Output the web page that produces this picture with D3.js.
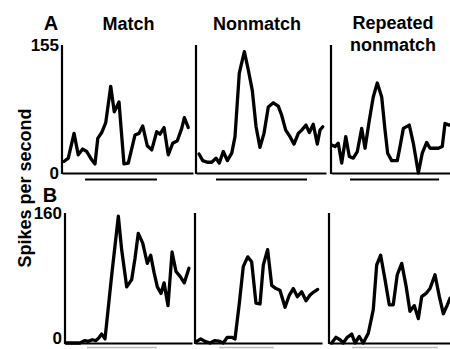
<!DOCTYPE html>
<html lang="en">
<head>
    <meta charset="UTF-8">
    <title>Spike rate histograms</title>
    <script src="https://d3js.org/d3.v7.min.js"></script>
    <style>
        body { margin: 0; background: #fff; }
        svg { display: block; font-family: 'Liberation Sans', Arial, sans-serif; }
        .trace { fill: none; stroke: #000; stroke-width: 3.3px; stroke-linejoin: round; stroke-linecap: round; }
        .axis path { stroke: #000; stroke-width: 2.2px; }
        .axis text { font-size: 17px; font-weight: bold; fill: #000; }
        .title { font-size: 18px; font-weight: bold; text-anchor: middle; }
        .panel-letter { font-size: 20px; font-weight: bold; text-anchor: middle; }
    </style>
</head>
<body>
    <div id="chart"></div>
    <script>
        // time in % of the trial window, rate in spikes/s
        const matchA = [[1.5,14],[4.8,18],[9.2,48],[12.4,22],[15.8,29],[18.9,26],[22.7,16],[25.2,11],[27.3,42],[30.3,49],[33.4,61],[37.2,105],[39.9,74],[43.5,86],[47.3,11],[50.6,12],[55.7,46],[58.8,48],[61.6,57],[65.1,33],[68.5,28],[72.3,50],[74.8,47],[77.9,55],[81.1,22],[84.5,36],[88,39],[91.4,54],[93.4,67],[96.4,55]];
        const nonmatchA = [[2.3,23],[5.2,15],[8.7,13],[12.1,13],[15.4,18],[17.9,12],[21,26],[24.1,15],[27.5,24],[30,44],[33.3,121],[37.2,147],[40.2,125],[43.3,100],[46.2,56],[49.2,31],[52.3,48],[55.6,80],[59.5,85],[63.3,81],[65.9,70],[69,52],[72.3,44],[75.4,35],[78.7,48],[81.3,52],[84.6,58],[87.2,49],[90.2,59],[93.3,35],[95.4,52],[97.5,56]];
        const repeatedA = [[0.6,34],[3.4,32],[6.1,36],[9,12],[12.4,44],[15.4,20],[18.7,18],[22.1,26],[25.8,54],[28.6,30],[32.2,64],[35.5,92],[38.9,109],[42.6,92],[45.4,52],[47.6,24],[51,15],[55.7,15],[58,32],[60.8,54],[65.8,58],[69.2,36],[73.4,0],[76.7,24],[80.4,37],[83.2,30],[86.6,30],[90.2,30],[93.5,32],[95.8,60],[99.4,58]];

        const matchB = [[0.8,0],[6.5,0],[11.8,0],[15.7,3],[18.3,2],[21.5,4],[24.4,3],[27,7],[28.9,11],[31.5,5],[36.8,84],[42,156],[44.6,115],[48.6,69],[52.5,78],[55.1,104],[57.7,135],[61.2,123],[64.8,98],[67.5,108],[70.1,87],[72.7,69],[75.6,61],[78,74],[81.1,46],[84.3,112],[87.4,88],[90.6,82],[93.9,74],[97.6,92]];
        const nonmatchB = [[1.3,2],[4.5,5],[7.9,2],[11.8,0],[15.7,3],[19.7,2],[22.3,0],[25.4,7],[28.9,7],[31.5,5],[34.9,49],[38,94],[41.5,106],[44.6,100],[48,49],[51.2,48],[53.8,96],[57.2,115],[60.4,71],[63.8,67],[66.9,65],[70.9,44],[74.3,59],[77.4,67],[80.6,57],[84,63],[87.4,52],[90.6,59],[93.7,63],[96.6,66]];
        const repeatedB = [[2.2,0],[5.8,7],[9.1,4],[11.8,0],[15.1,7],[18.8,11],[21.5,0],[25,8],[28.3,0],[32.5,12],[36.6,41],[39.4,96],[42.7,108],[46.3,78],[49.8,47],[53.1,47],[56.4,84],[60.1,98],[63.6,71],[66.9,39],[70.5,46],[73.8,30],[76.6,57],[80.2,61],[83.5,67],[87.6,84],[91.2,57],[94.5,36],[97.8,47],[100,55]];

        // stimulus period [start, end] per column
        const stimA = [[17.6,72.5],[15.4,85.4],[16,90.8]];
        const stimB = [[17.3,72.4],[19,62],[19,90]];

        const columnTitles = ["Match", "Nonmatch", "Repeated nonmatch"];
        const rowLetters = ["A", "B"];
        const rowMax = [155, 160];

        const width = 450, height = 349;

        const svg = d3.select("#chart").append("svg")
            .attr("width", width)
            .attr("height", height);

        // panel boxes (layout only)
        const rows = [
            { top: 45, bottom: 173, stimY: 179.5, stimColor: "#000", stimW: 2 },
            { top: 213, bottom: 343, stimY: 347.5, stimColor: "#bbb", stimW: 1.5 }
        ];
        const cols = [
            [[62, 193], [196, 326], [331, 450]],
            [[65, 192], [195, 322], [329, 450]]
        ];
        const series = [[matchA, nonmatchA, repeatedA], [matchB, nonmatchB, repeatedB]];
        const stims = [stimA, stimB];

        rows.forEach((row, r) => {
            const y = d3.scaleLinear().domain([0, rowMax[r]]).range([row.bottom, row.top]);
            cols[r].forEach((c, k) => {
                const x = d3.scaleLinear().domain([0, 100]).range(c);
                const g = svg.append("g");

                g.append("g")
                    .attr("class", "axis")
                    .attr("transform", `translate(${c[0]},0)`)
                    .call(d3.axisLeft(y).tickValues(k === 0 ? [0, rowMax[r]] : [])
                        .tickSize(0).tickSizeOuter(0).tickPadding(3).tickFormat(d3.format("d")))
                    .call(a => a.select(".domain").attr("d", `M0,${row.top}V${row.bottom + 1}`))
                    // keep the bottom "0" of row B inside the frame
                    .call(a => a.selectAll(".tick text").filter(d => r === 1 && d === 0).attr("dy", "0.04em"));

                g.append("g")
                    .attr("class", "axis")
                    .attr("transform", `translate(0,${row.bottom})`)
                    .call(d3.axisBottom(x).tickValues([]).tickSize(0).tickSizeOuter(0));

                const line = d3.line()
                    .x(d => x(d[0]))
                    .y(d => y(d[1]));

                g.append("path")
                    .datum(series[r][k])
                    .attr("class", "trace")
                    .attr("d", line);

                const s = stims[r][k];
                g.append("line")
                    .attr("x1", x(s[0])).attr("x2", x(s[1]))
                    .attr("y1", row.stimY).attr("y2", row.stimY)
                    .attr("stroke", row.stimColor)
                    .attr("stroke-width", row.stimW);
            });
        });

        // column titles
        svg.append("text").attr("class", "title").attr("x", 128.5).attr("y", 30).text(columnTitles[0]);
        svg.append("text").attr("class", "title").attr("x", 257).attr("y", 30).text(columnTitles[1]);
        const t3 = svg.append("text").attr("class", "title").attr("x", 393).attr("y", 29);
        columnTitles[2].split(" ").forEach((w, i) => {
            t3.append("tspan").attr("x", 393).attr("dy", i === 0 ? 0 : 22).text(w);
        });

        svg.append("text").attr("class", "panel-letter").attr("x", 51).attr("y", 30).text(rowLetters[0]);
        svg.append("text").attr("class", "panel-letter").attr("x", 50).attr("y", 202).text(rowLetters[1]);

        svg.append("text")
            .attr("class", "title")
            .attr("transform", "translate(31,188) rotate(-90)")
            .text("Spikes per second");
    </script>
</body>
</html>
